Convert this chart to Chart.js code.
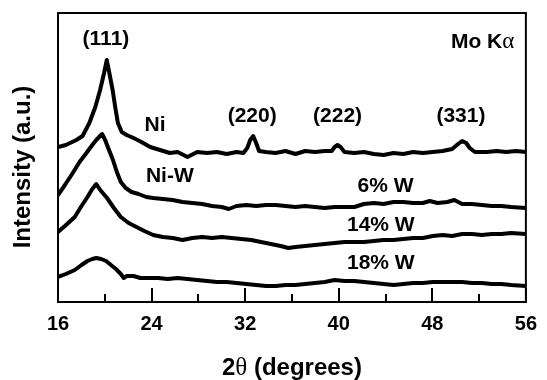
<!DOCTYPE html>
<html>
<head>
<meta charset="utf-8">
<title>XRD patterns Ni / Ni-W</title>
<script src="https://cdn.jsdelivr.net/npm/chart.js@4.4.1/dist/chart.umd.min.js"></script>
<style>
  html, body { margin: 0; padding: 0; background: #fff; }
  #wrap { width: 547px; height: 380px; }
</style>
</head>
<body>
<div id="wrap"><canvas id="xrd" width="547" height="380"></canvas></div>
<script>
// 2theta (degrees) and intensity (a.u., stacked offsets)
const niDeg = [16.0, 16.67, 17.57, 18.1, 18.68, 19.19, 19.6, 19.94, 20.17, 20.39, 20.67, 20.89, 21.12, 21.45, 21.87, 22.46, 23.13, 23.88, 24.72, 25.56,
  26.23, 27.07, 27.9, 28.75, 29.58, 30.42, 31.26, 31.85, 32.18, 32.43, 32.69, 32.94, 33.19, 33.78, 34.6, 35.45, 36.3, 37.13, 37.97, 38.8,
  39.4, 39.65, 39.9, 40.15, 40.49, 41.33, 42.16, 43.0, 43.84, 44.68, 45.52, 46.36, 47.2, 48.04, 48.88, 49.7, 50.2, 50.55, 50.9, 51.2,
  51.64, 52.65, 53.48, 54.32, 55.16, 56.0];
const niInt = [155, 157, 162, 166, 179, 195, 212, 229, 242, 229, 212, 195, 179, 170, 167, 164, 160, 155, 152, 149,
  150, 145, 150, 149, 150, 148, 150, 149, 154, 162, 166, 159, 151, 150, 149, 151, 148, 151, 150, 151,
  151, 155, 157, 155, 150, 149, 150, 148, 147, 149, 148, 150, 149, 150, 151, 153, 158, 161, 159, 154,
  150, 150, 151, 150, 151, 150];

const niwDeg = [16.0, 16.59, 17.26, 17.84, 18.43, 18.93, 19.27, 19.52, 19.77, 20.03, 20.36, 20.7, 21.03, 21.37, 21.79, 22.29, 22.88, 23.55, 24.13, 24.97,
  25.81, 26.65, 27.49, 28.33, 29.17, 30.0, 30.6, 31.26, 32.1, 32.94, 33.78, 34.62, 35.45, 36.3, 37.13, 37.97, 38.8, 39.65, 40.49, 41.33,
  42.16, 43.0, 43.84, 44.68, 45.52, 46.36, 47.2, 47.78, 48.45, 49.29, 49.88, 50.55, 51.39, 52.23, 53.07, 53.9, 54.74, 56.0];
const niwInt = [107, 117, 129, 140, 149, 157, 162, 165, 168, 162, 152, 142, 130, 120, 114, 110, 108, 105, 104, 103,
  102, 100, 99, 98, 96, 95, 93, 96, 97, 96, 97, 97, 96, 95, 96, 95, 94, 95, 95, 95,
  98, 99, 98, 100, 100, 99, 99, 101, 99, 100, 102, 98, 98, 97, 96, 96, 95, 94];

const w14Deg = [16.0, 16.59, 17.43, 18.01, 18.52, 18.93, 19.27, 19.61, 20.19, 20.78, 21.37, 22.04, 22.71, 23.38, 24.13, 24.97, 25.81, 26.65, 27.49, 28.33,
  29.17, 30.0, 30.84, 31.68, 32.52, 33.36, 34.2, 35.04, 35.7, 36.3, 37.13, 37.97, 38.8, 39.65, 40.49, 41.33, 42.16, 43.0, 43.84, 44.68,
  45.52, 46.36, 47.2, 48.04, 48.88, 49.7, 50.55, 51.39, 52.23, 53.07, 53.9, 54.74, 56.0];
const w14Int = [70, 76, 85, 96, 105, 113, 118, 112, 104, 94, 85, 79, 75, 71, 67, 65, 64, 62, 64, 65,
  64, 65, 64, 63, 62, 60, 58, 56, 54, 55, 56, 57, 58, 59, 60, 60, 60, 61, 62, 62,
  63, 64, 64, 66, 67, 66, 68, 68, 67, 68, 68, 69, 68];

const w18Deg = [16.0, 16.67, 17.43, 18.01, 18.52, 18.93, 19.27, 19.69, 20.11, 20.53, 20.95, 21.37, 21.62, 21.87, 22.46, 23.04, 23.71, 24.55, 25.39, 26.23,
  27.07, 27.9, 28.75, 29.58, 30.42, 31.26, 32.1, 32.94, 33.78, 34.62, 35.45, 36.3, 37.13, 37.97, 38.8, 39.65, 40.49, 41.33, 42.16, 43.0,
  43.84, 44.68, 45.52, 46.36, 47.2, 48.04, 48.88, 49.7, 50.55, 51.39, 52.23, 53.07, 53.9, 54.74, 56.0];
const w18Int = [25, 28, 32, 37, 41, 43, 44, 43, 41, 37, 33, 28, 24, 26, 26, 24, 24, 24, 23, 24,
  23, 22, 21, 20, 20, 19, 18, 17, 16, 16, 17, 17, 18, 19, 20, 22, 21, 21, 20, 19,
  18, 17, 18, 19, 19, 20, 20, 20, 20, 19, 19, 18, 18, 17, 16];

const majorTicks = [16, 24, 32, 40, 48, 56];
const minorTicks = [20, 28, 36, 44, 52];

// text annotations, placed in data coordinates
const noteText = ['(111)', 'Ni', '(220)', '(222)', '(331)', 'Ni-W', '6% W', '14% W', '18% W'];
const noteDeg  = [20.1, 24.3, 32.6, 39.9, 50.45, 25.56, 44.0, 43.6, 43.6];
const noteInt  = [263, 177, 186, 186, 186, 126, 116, 77, 39];

const SANS = '"Liberation Sans", Arial, Helvetica, sans-serif';
const SERIF = '"Liberation Serif", "DejaVu Serif", serif';

function pts(xs, ys) {
  return xs.map((v, i) => ({ x: v, y: ys[i] }));
}

// draw a run of text pieces with different fonts, centred on cx
function drawMixed(ctx, parts, cx, baseY) {
  let total = 0;
  parts.forEach(p => { ctx.font = p[1]; total += ctx.measureText(p[0]).width; });
  let x = cx - total / 2;
  ctx.textAlign = 'left';
  ctx.textBaseline = 'alphabetic';
  parts.forEach(p => {
    ctx.font = p[1];
    ctx.fillText(p[0], x, baseY);
    x += ctx.measureText(p[0]).width;
  });
}

const decor = {
  id: 'decor',
  afterDatasetsDraw(chart) {
    const { ctx, chartArea: a, scales: { x, y } } = chart;
    ctx.save();
    ctx.strokeStyle = '#000';
    ctx.fillStyle = '#000';

    // frame
    ctx.lineWidth = 2;
    ctx.strokeRect(a.left, a.top, a.right - a.left, a.bottom - a.top);

    // inward tick marks on the bottom axis
    ctx.beginPath();
    majorTicks.forEach(v => {
      const px = Math.round(x.getPixelForValue(v));
      ctx.moveTo(px, a.bottom);
      ctx.lineTo(px, a.bottom - 14);
    });
    minorTicks.forEach(v => {
      const px = Math.round(x.getPixelForValue(v));
      ctx.moveTo(px, a.bottom);
      ctx.lineTo(px, a.bottom - 8);
    });
    ctx.stroke();

    // peak and sample labels
    ctx.font = 'bold 21px ' + SANS;
    ctx.textAlign = 'center';
    ctx.textBaseline = 'middle';
    noteText.forEach((t, i) => {
      ctx.fillText(t, x.getPixelForValue(noteDeg[i]), y.getPixelForValue(noteInt[i]));
    });

    // radiation label
    drawMixed(ctx, [['Mo K', 'bold 21px ' + SANS], ['\u03b1', '23px ' + SERIF]],
      x.getPixelForValue(52.3), y.getPixelForValue(254));

    // axis titles
    drawMixed(ctx, [['2', 'bold 24px ' + SANS], ['\u03b8', '25px ' + SERIF], [' (degrees)', 'bold 24px ' + SANS]],
      (a.left + a.right) / 2, 375);

    ctx.translate(30, 167);
    ctx.rotate(-Math.PI / 2);
    ctx.font = 'bold 24px ' + SANS;
    ctx.textAlign = 'center';
    ctx.textBaseline = 'alphabetic';
    ctx.fillText('Intensity (a.u.)', 0, 0);
    ctx.restore();
  }
};

function line(xs, ys) {
  return {
    data: pts(xs, ys),
    borderColor: '#000',
    borderWidth: 4,
    borderJoinStyle: 'round',
    borderCapStyle: 'round',
    pointRadius: 0,
    tension: 0,
    fill: false
  };
}

new Chart(document.getElementById('xrd'), {
  type: 'line',
  data: {
    datasets: [
      line(niDeg, niInt),
      line(niwDeg, niwInt),
      line(w14Deg, w14Int),
      line(w18Deg, w18Int)
    ]
  },
  options: {
    responsive: false,
    animation: false,
    devicePixelRatio: 1,
    layout: { padding: { left: 58, top: 13, right: 12, bottom: 0 } },
    plugins: {
      legend: { display: false },
      tooltip: { enabled: false }
    },
    scales: {
      x: {
        type: 'linear',
        min: 16,
        max: 56,
        afterFit(scale) { scale.height = 78; },
        grid: { display: false, drawTicks: false },
        border: { display: false },
        ticks: {
          stepSize: 8,
          autoSkip: false,
          maxRotation: 0,
          padding: 10,
          color: '#000',
          font: { family: SANS, size: 20, weight: 'bold' }
        }
      },
      y: {
        display: false,
        min: 0,
        max: 289
      }
    }
  },
  plugins: [decor]
});
</script>
</body>
</html>
